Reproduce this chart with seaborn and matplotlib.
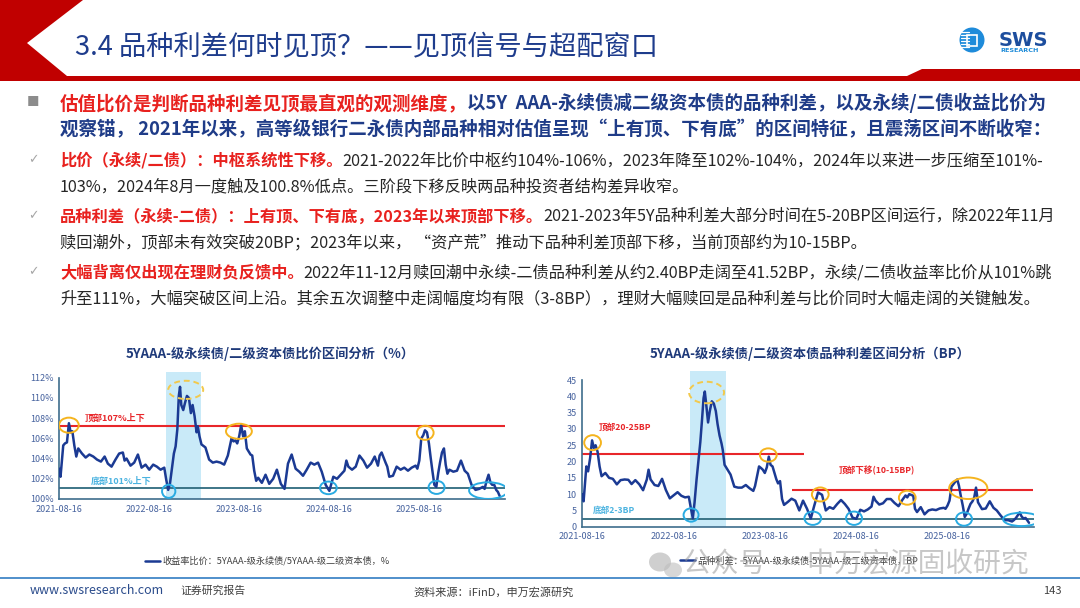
import pandas as pd
import matplotlib
matplotlib.use("Agg")
import matplotlib.pyplot as plt
import matplotlib.dates as mdates
from matplotlib.patches import Ellipse, Polygon, Circle, Rectangle
import seaborn as sns

# ---- data ----
dates = [
    "2021-08-16", "2021-08-21", "2021-09-01", "2021-09-08", "2021-09-16", "2021-09-24", "2021-10-01", "2021-10-08",
    "2021-10-16", "2021-10-24", "2021-11-01", "2021-11-16", "2021-12-01", "2021-12-16", "2022-01-01", "2022-01-16",
    "2022-02-01", "2022-02-16", "2022-03-01", "2022-03-16", "2022-04-01", "2022-04-16", "2022-05-01", "2022-05-08",
    "2022-05-16", "2022-06-01", "2022-06-16", "2022-07-01", "2022-07-16", "2022-08-01", "2022-08-16", "2022-09-01",
    "2022-09-16", "2022-10-01", "2022-10-16", "2022-10-24", "2022-11-01", "2022-11-08", "2022-11-16", "2022-11-24",
    "2022-12-01", "2022-12-08", "2022-12-14", "2022-12-19", "2022-12-24", "2023-01-01", "2023-01-08", "2023-01-16",
    "2023-01-24", "2023-02-01", "2023-02-08", "2023-02-16", "2023-02-24", "2023-03-01", "2023-03-08", "2023-03-16",
    "2023-04-01", "2023-04-16", "2023-05-01", "2023-05-16", "2023-06-01", "2023-06-16", "2023-07-01", "2023-07-08",
    "2023-07-16", "2023-07-24", "2023-08-01", "2023-08-08", "2023-08-16", "2023-08-24", "2023-09-01", "2023-09-08",
    "2023-09-16", "2023-10-01", "2023-10-08", "2023-10-16", "2023-10-24", "2023-11-01", "2023-11-16", "2023-12-01",
    "2023-12-16", "2024-01-01", "2024-01-16", "2024-02-01", "2024-02-16", "2024-03-01", "2024-03-16", "2024-04-01",
    "2024-04-16", "2024-05-01", "2024-05-16", "2024-06-01", "2024-06-16", "2024-07-01", "2024-07-16", "2024-08-01",
    "2024-08-16", "2024-09-01", "2024-09-16", "2024-10-01", "2024-10-16", "2024-10-24", "2024-11-01", "2024-11-16",
    "2024-12-01", "2024-12-16", "2025-01-01", "2025-01-16", "2025-02-01", "2025-02-16", "2025-03-01", "2025-03-08",
    "2025-03-16", "2025-04-01", "2025-04-08", "2025-04-16", "2025-05-01", "2025-05-16", "2025-06-01", "2025-06-16",
    "2025-07-01", "2025-07-16", "2025-08-01", "2025-08-08", "2025-08-16", "2025-08-24", "2025-09-01", "2025-09-08",
    "2025-09-16", "2025-09-24", "2025-10-01", "2025-10-08", "2025-10-16", "2025-10-24", "2025-11-01", "2025-11-08",
    "2025-11-16", "2025-11-24", "2025-12-01", "2025-12-08", "2025-12-16", "2026-01-01", "2026-01-16", "2026-02-01",
    "2026-02-16", "2026-03-01", "2026-03-16", "2026-04-01", "2026-04-16", "2026-05-01", "2026-05-08", "2026-05-16",
    "2026-05-24", "2026-06-01", "2026-06-08", "2026-06-16", "2026-06-24", "2026-07-01", "2026-07-08",
]
ratio = [
    103.0, 102.2, 105.3, 105.5, 105.6, 107.5, 106.6, 106.7, 105.3, 104.2, 105.0, 104.5, 104.1, 104.4, 104.2, 103.9,
    103.7, 104.2, 103.5, 103.2, 103.9, 104.5, 104.6, 103.8, 104.0, 103.3, 103.6, 104.4, 103.1, 103.4, 102.9, 103.4,
    103.2, 102.9, 103.1, 101.9, 100.9, 101.5, 103.0, 104.5, 105.2, 106.9, 110.2, 111.1, 109.3, 108.8, 109.5, 110.2,
    110.0, 108.5, 109.3, 108.2, 106.6, 107.2, 106.2, 105.4, 105.1, 103.9, 103.6, 103.7, 103.6, 103.4, 104.3, 105.1,
    106.0, 105.7, 105.8, 105.5, 106.2, 107.3, 106.2, 106.7, 105.0, 104.4, 104.3, 102.8, 101.8, 102.1, 101.6, 102.4,
    101.5, 102.0, 102.9, 101.5, 101.0, 103.5, 104.4, 103.0, 102.7, 102.3, 102.9, 103.6, 103.4, 103.6, 102.7, 101.4,
    100.8, 102.2, 102.0, 102.4, 102.8, 103.8, 103.2, 102.9, 103.2, 104.3, 103.8, 103.1, 103.5, 104.2, 103.3, 104.3,
    104.6, 103.6, 103.2, 102.2, 102.3, 103.2, 102.9, 103.1, 102.8, 103.1, 103.3, 103.0, 103.8, 106.0, 106.3, 106.8,
    106.6, 105.5, 104.1, 102.8, 101.4, 101.2, 102.6, 103.6, 104.6, 105.0, 103.4, 102.5, 102.9, 102.7, 102.8, 103.8,
    102.8, 102.5, 101.4, 100.9, 101.0, 101.2, 101.0, 101.8, 102.4, 101.6, 101.4, 101.4, 100.9, 100.7, 100.3,
]
spread = [
    10.0, 7.8, 18.5, 17.0, 21.0, 26.5, 24.2, 25.0, 23.0, 18.5, 15.5, 16.5, 15.0, 14.7, 13.0, 14.3,
    14.5, 14.4, 13.1, 14.3, 13.0, 11.2, 14.5, 17.5, 14.5, 12.8, 12.5, 14.7, 11.3, 8.7, 9.6, 10.6,
    9.5, 9.0, 9.2, 5.8, 2.6, 7.5, 14.5, 20.5, 26.0, 33.0, 39.5, 41.5, 38.0, 32.0, 35.5, 38.5,
    37.8, 35.5, 31.5, 28.0, 25.5, 23.5, 19.0, 18.0, 16.0, 12.3, 12.0, 12.0, 12.8, 11.8, 11.0, 12.5,
    15.5, 18.5, 18.0, 17.5, 16.5, 18.2, 21.5, 19.0, 18.5, 14.6, 13.3, 14.0, 8.5, 6.7, 7.6, 8.6,
    8.0, 5.0, 8.0, 5.5, 2.5, 6.5, 10.5, 9.8, 5.0, 6.0, 5.5, 7.0, 8.2, 7.0, 5.5, 2.8,
    2.4, 5.2, 4.7, 5.3, 6.2, 9.2, 8.0, 6.8, 7.2, 8.5, 8.5, 7.3, 6.3, 8.2, 9.6, 9.0,
    10.0, 9.5, 5.5, 4.5, 6.0, 3.8, 5.0, 5.3, 5.1, 5.6, 5.8, 5.5, 6.5, 8.0, 12.3, 13.0,
    13.8, 14.5, 12.5, 9.5, 6.5, 3.0, 4.0, 5.5, 7.0, 7.8, 9.0, 12.0, 7.5, 5.4, 5.6, 7.8,
    5.8, 5.0, 3.5, 2.0, 2.0, 1.6, 2.0, 2.6, 3.5, 4.4, 3.2, 2.5, 2.7, 2.0, 1.2,
]

year_ticks = ["2021-08-16", "2022-08-16", "2023-08-16", "2024-08-16", "2025-08-16"]
ratio_ticks = [100, 102, 104, 106, 108, 110, 112]
spread_ticks = [0, 5, 10, 15, 20, 25, 30, 35, 40, 45]
x_range = ("2021-08-16", "2026-07-28")
redeem_window = ("2022-10-22", "2023-03-15")

ratio_top, ratio_floor = 107.2, 101.1
spread_tops = [(22.3, "2021-08-16", "2024-01-18"), (11.25, "2023-12-04", "2026-07-26")]
spread_floor = 2.35

# highlight rings: (centre date, value, width in days, height in y units)
ratio_hi = [("2021-09-24", 107.3, 80, 1.5), ("2023-08-15", 106.7, 105, 1.5), ("2025-09-09", 106.55, 68, 1.4)]
ratio_lo = [("2022-11-03", 100.76, 54, 1.3), ("2024-08-12", 101.1, 68, 1.25),
            ("2025-10-25", 101.15, 65, 1.3), ("2026-05-23", 100.83, 156, 1.65)]
ratio_spike = ("2023-01-11", 110.8, 142, 1.8)
spread_hi = [("2021-09-26", 25.8, 67, 4.6), ("2023-08-30", 22.0, 67, 4.1), ("2024-03-25", 9.9, 67, 4.3),
             ("2025-03-08", 8.9, 67, 4.3), ("2025-11-07", 11.8, 153, 6.6)]
spread_lo = [("2022-10-25", 3.6, 60, 4.1), ("2024-02-24", 2.6, 67, 4.1), ("2024-08-07", 2.6, 64, 4.1),
             ("2025-10-21", 2.35, 64, 4.1), ("2026-06-08", 2.25, 147, 4.1)]
spread_spike = ("2022-12-26", 41.2, 140, 6.6)

ratio_label = "收益率比价：5YAAA-级永续债/5YAAA-级二级资本债，%"
spread_label = "品种利差：5YAAA-级永续债-5YAAA-级二级资本债，BP"

RED = "#E8211E"
BLUE = "#1F3C88"
NAVY = "#1B3A93"
TICK = "#46629E"
SPINE = "#3E6D8C"

sns.set_style("white")
plt.rcParams["font.family"] = ["Noto Sans CJK SC", "DejaVu Sans"]

df = pd.DataFrame({"date": pd.to_datetime(dates), "ratio": ratio, "spread": spread})

fig = plt.figure(figsize=(10.8, 6.08), dpi=100)

# background layer in pixel coordinates
bg = fig.add_axes([0, 0, 1, 1])
bg.set_xlim(0, 1080)
bg.set_ylim(608, 0)
bg.axis("off")

bg.add_patch(Polygon([(0, 0), (83, 0), (27, 43), (67, 76), (907, 76), (922, 69), (1080, 69),
                      (1080, 81), (0, 81)], closed=True, color="#C00000", lw=0))
bg.text(75, 47, "3.4 品种利差何时见顶？——见顶信号与超配窗口", fontsize=19.6, color="#1E3C8C", va="center")

# logo
bg.add_patch(Circle((972, 40), 12.5, color="#1E8BDA", lw=0))
for yy in [32, 35, 38, 41, 44, 47]:
    bg.plot([961, 969], [yy, yy], color="white", lw=0.9)
bg.add_patch(Rectangle((967, 34.5), 10, 11, fill=False, ec="white", lw=1.2))
bg.text(999, 40, "SWS", fontsize=14, fontweight="bold", color="#1D4E9E", va="center",
        family="DejaVu Sans")
bg.text(1000, 51, "RESEARCH", fontsize=4.6, fontweight="bold", color="#1D8BD8", va="center",
        family="DejaVu Sans")


def rich_line(x, y, parts, size):
    prev = None
    for txt, kind in parts:
        color = {"r": RED, "b": BLUE, "n": "#262626"}[kind]
        weight = "normal" if kind == "n" else "bold"
        if prev is None:
            prev = bg.text(x, y, txt, color=color, fontsize=size, fontweight=weight, va="baseline")
        else:
            prev = bg.annotate(txt, xy=(1, 0), xycoords=prev, color=color, fontsize=size,
                               fontweight=weight, va="bottom", ha="left")


bg.text(33, 103, "■", fontsize=9, color="#8C8C8C", va="center", ha="center")
rich_line(60, 109, [("估值比价是判断品种利差见顶最直观的观测维度，", "r"),
                    ("以5Y  AAA-永续债减二级资本债的品种利差，以及永续/二债收益比价为", "b")], 13.3)
rich_line(60, 135, [("观察锚， 2021年以来，高等级银行二永债内部品种相对估值呈现“上有顶、下有底”的区间特征，且震荡区间不断收窄：", "b")], 13.3)

body = [
    (166, [("比价（永续/二债）：中枢系统性下移。", "r"),
           ("2021-2022年比价中枢约104%-106%，2023年降至102%-104%，2024年以来进一步压缩至101%-", "n")],
     [("103%，2024年8月一度触及100.8%低点。三阶段下移反映两品种投资者结构差异收窄。", "n")]),
    (222, [("品种利差（永续-二债）：上有顶、下有底，2023年以来顶部下移。", "r"),
           ("2021-2023年5Y品种利差大部分时间在5-20BP区间运行，除2022年11月", "n")],
     [("赎回潮外，顶部未有效突破20BP；2023年以来， “资产荒”推动下品种利差顶部下移，当前顶部约为10-15BP。", "n")]),
    (278, [("大幅背离仅出现在理财负反馈中。", "r"),
           ("2022年11-12月赎回潮中永续-二债品种利差从约2.40BP走阔至41.52BP，永续/二债收益率比价从101%跳", "n")],
     [("升至111%，大幅突破区间上沿。其余五次调整中走阔幅度均有限（3-8BP），理财大幅赎回是品种利差与比价同时大幅走阔的关键触发。", "n")]),
]
for y0, first, second in body:
    bg.text(33, y0 - 6, "✓", fontsize=9, color="#A6A6A6", va="center", ha="center", family="DejaVu Sans")
    rich_line(60, y0, first, 11.7)
    rich_line(60, y0 + 25, second, 11.7)

# chart titles
bg.text(270, 354, "5YAAA-级永续债/二级资本债比价区间分析（%）", fontsize=9.5, fontweight="bold",
        color="#1F3A7A", ha="center", va="center")
bg.text(810, 354, "5YAAA-级永续债/二级资本债品种利差区间分析（BP）", fontsize=9.5, fontweight="bold",
        color="#1F3A7A", ha="center", va="center")

# footer
bg.plot([0, 1080], [577.5, 577.5], color="#4F8FCB", lw=1.4)
bg.text(30, 591, "www.swsresearch.com", fontsize=9, color="#2B4C8C", va="center")
bg.text(180, 591, "证券研究报告", fontsize=7.8, color="#404040", va="center")
bg.text(413, 592, "资料来源：iFinD，申万宏源研究", fontsize=8, color="#404040", va="center")
bg.text(1062, 591, "143", fontsize=8, color="#404040", va="center", ha="right")

ax1 = fig.add_axes([0.0549, 0.1793, 0.4123, 0.2094])
ax2 = fig.add_axes([0.5392, 0.1337, 0.4182, 0.2561])


def d(s):
    return mdates.date2num(pd.Timestamp(s))


def rings(ax, items, color, ls="-"):
    for c, v, w, h in items:
        ax.add_patch(Ellipse((d(c), v), w, h, fill=False, ec=color, lw=1.4, ls=ls, zorder=5))


for ax, col, label, lim, ticks in [(ax1, "ratio", ratio_label, (100, 112.6), ratio_ticks),
                                    (ax2, "spread", spread_label, (0, 47.8), spread_ticks)]:
    ax.patch.set_alpha(0)
    ax.axvspan(d(redeem_window[0]), d(redeem_window[1]), color="#C9EAF8", lw=0, zorder=0)
    sns.lineplot(data=df, x="date", y=col, ax=ax, color=NAVY, lw=1.8, label=label, zorder=3)
    ax.set_xlim(d(x_range[0]), d(x_range[1]))
    ax.set_ylim(*lim)
    ax.set_xticks([d(t) for t in year_ticks])
    ax.set_xticklabels(year_ticks)
    ax.set_yticks(ticks)
    ax.set_xlabel("")
    ax.set_ylabel("")
    ax.tick_params(labelsize=6.5, labelcolor=TICK, color=SPINE, length=2.5, width=0.8, pad=1.5)
    for s in ["top", "right"]:
        ax.spines[s].set_visible(False)
    for s in ["left", "bottom"]:
        ax.spines[s].set_color(SPINE)
        ax.spines[s].set_linewidth(1.2)
    ax.spines["left"].set_bounds(ticks[0], ticks[-1])

ax1.set_yticklabels([f"{t}%" for t in ratio_ticks])

# ratio chart marks
ax1.axhline(ratio_top, color="#E8262A", lw=1.5, zorder=2)
ax1.axhline(ratio_floor, color="#2E6A7E", lw=1.3, zorder=2)
rings(ax1, ratio_hi, "#F5B41E")
rings(ax1, ratio_lo, "#29ABE2")
rings(ax1, [ratio_spike], "#F2C94C", ls=(0, (3, 2)))
ax1.text(d("2021-11-28"), 108.0, "顶部107%上下", color="#E8262A", fontsize=6.5, fontweight="bold", va="center")
ax1.text(d("2021-12-21"), 101.75, "底部101%上下", color="#4BB3E0", fontsize=6.5, fontweight="bold", va="center")

# spread chart marks
for v, a, b in spread_tops:
    ax2.hlines(v, d(a), d(b), color="#E8262A", lw=1.5, zorder=2)
ax2.axhline(spread_floor, color="#2E6A7E", lw=1.3, zorder=2)
rings(ax2, spread_hi, "#F5B41E")
rings(ax2, spread_lo, "#29ABE2")
rings(ax2, [spread_spike], "#F2C94C", ls=(0, (3, 2)))
ax2.text(d("2021-10-19"), 30.5, "顶部20-25BP", color="#E8262A", fontsize=6.2, fontweight="bold", va="center")
ax2.text(d("2021-09-26"), 5.1, "底部2-3BP", color="#4BB3E0", fontsize=6.2, fontweight="bold", va="center")
ax2.text(d("2024-06-05"), 17.2, "顶部下移(10-15BP)", color="#E8262A", fontsize=6.2, fontweight="bold", va="center")

for ax, x0 in [(ax1, 145), (ax2, 680)]:
    ax.legend(loc="center left", bbox_to_anchor=(x0 / 1080, 1 - 561 / 608), bbox_transform=fig.transFigure,
              frameon=False, fontsize=6.6, handlelength=1.6, handletextpad=0.3, borderpad=0,
              borderaxespad=0, labelcolor="#404040")

# watermark (sits over the right legend, as in the source slide)
fig.text(683 / 1080, 1 - 564 / 608, "公众号 · 申万宏源固收研究", fontsize=20, color="#9A9A9A", alpha=0.55,
         va="center")
bg.add_patch(Ellipse((660, 562), 22, 19, color="#B0B0B0", alpha=0.6, lw=0))
bg.add_patch(Ellipse((673, 570), 18, 15, color="#BDBDBD", alpha=0.6, lw=0))

fig.savefig("out.png", dpi=100)
